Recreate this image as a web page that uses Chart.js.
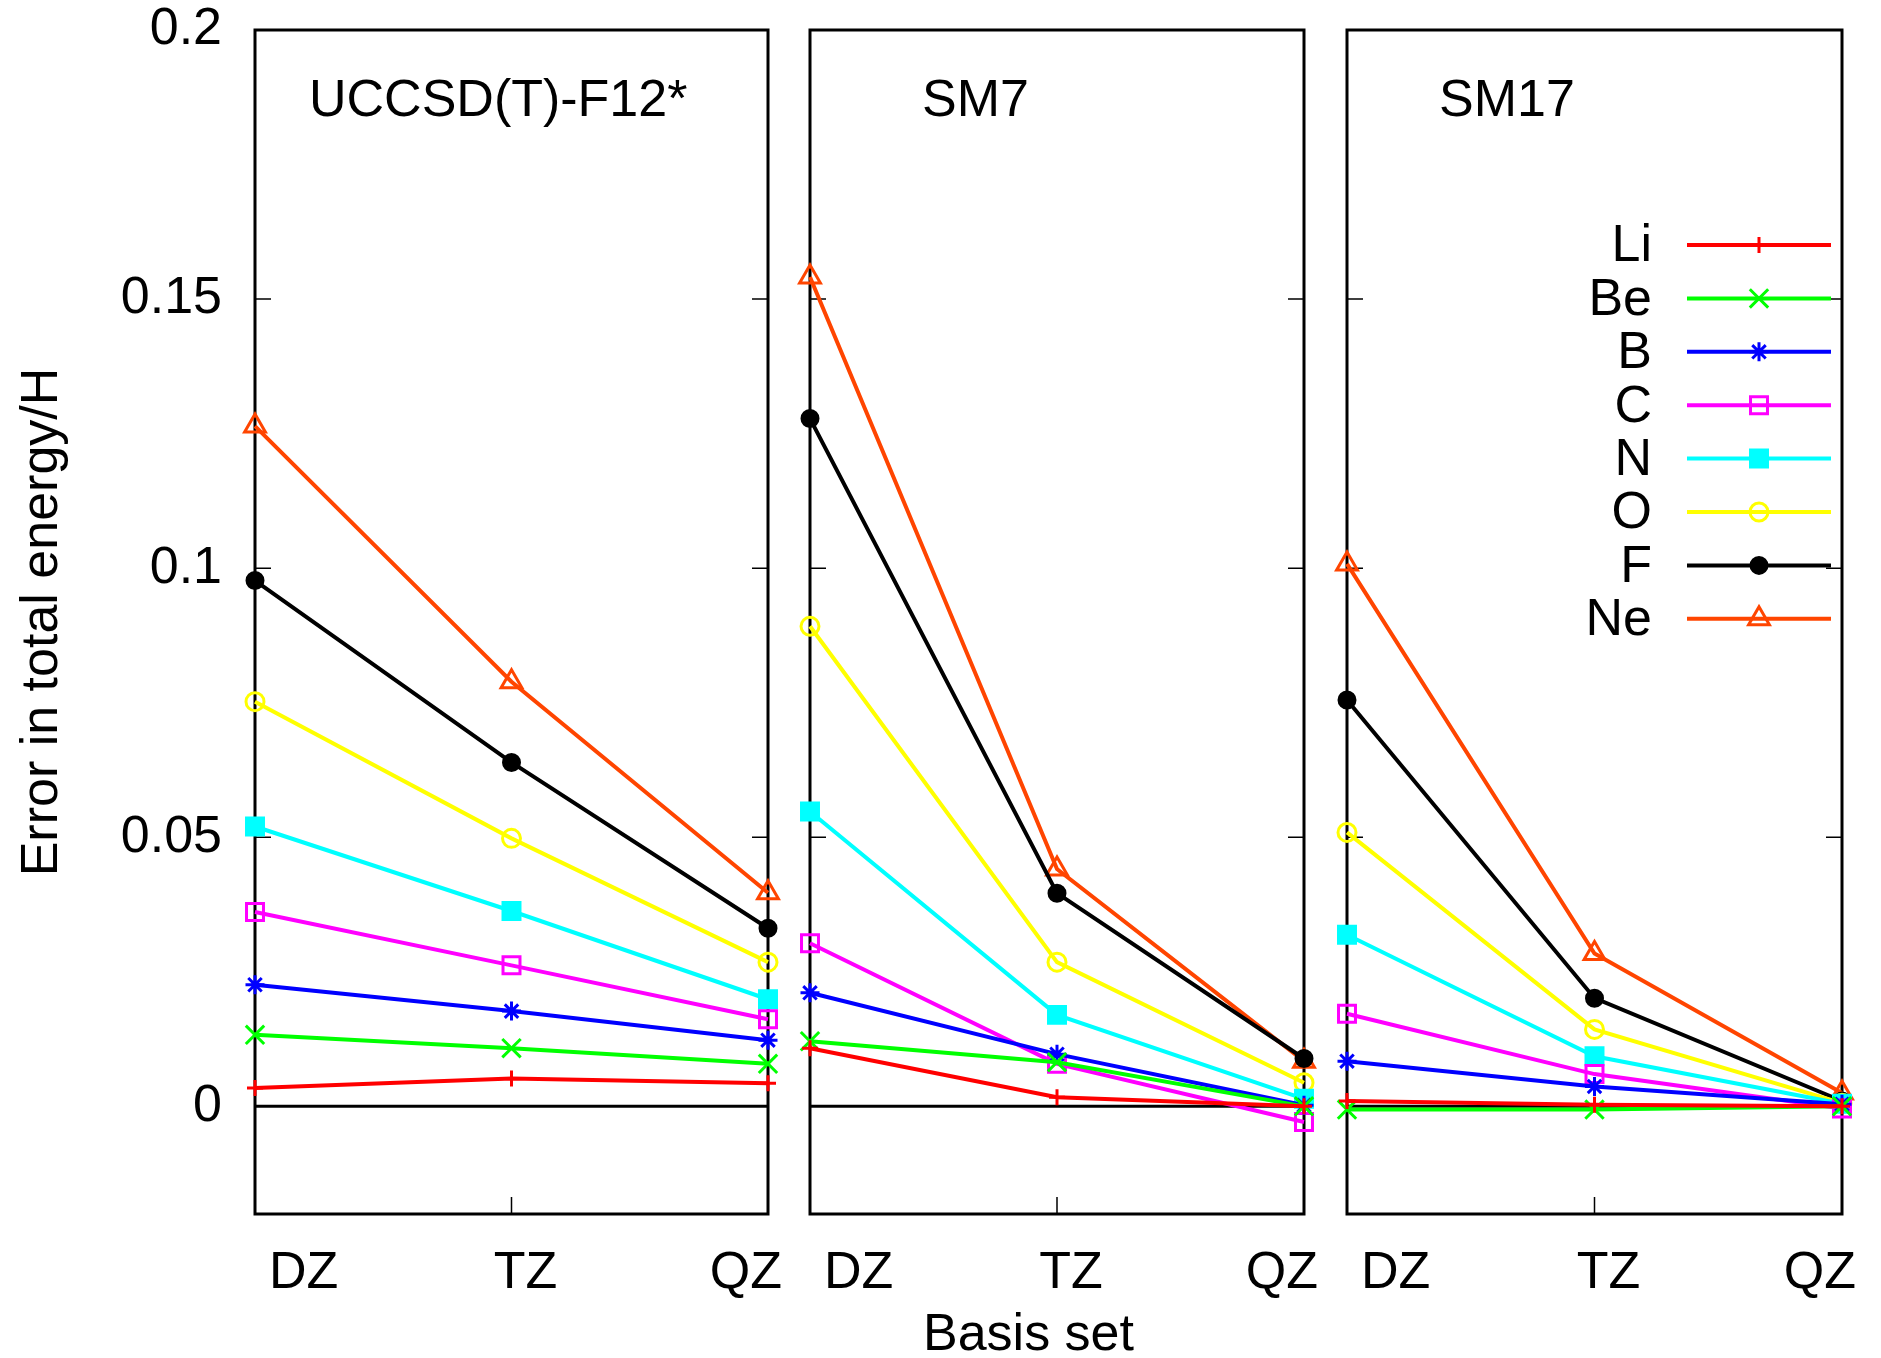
<!DOCTYPE html>
<html>
<head>
<meta charset="utf-8">
<script src="https://cdn.jsdelivr.net/npm/chart.js"></script>
<style>
  html, body { margin: 0; padding: 0; background: #fff; }
  #wrap { position: relative; width: 1881px; height: 1358px; overflow: hidden; font-family: 'Liberation Sans', Arial, sans-serif; }
  #wrap canvas { position: absolute; left: 0; top: 0; }
  .lbl { position: absolute; font-size: 52px; line-height: 1; white-space: nowrap; color: #000; }
</style>
</head>
<body>
<div id="wrap">
  <canvas id="panel1" width="1881" height="1358"></canvas>
  <canvas id="panel2" width="1881" height="1358"></canvas>
  <canvas id="panel3" width="1881" height="1358"></canvas>
  <div class="lbl" style="left:309px; top:72px">UCCSD(T)-F12*</div>
  <div class="lbl" style="left:922px; top:72px">SM7</div>
  <div class="lbl" style="left:1439px; top:72px">SM17</div>
  <div class="lbl" style="left:923px; top:1306px">Basis set</div>
</div>
<script>
const basisSets = ['DZ', 'TZ', 'QZ'];
const atoms = ['Li', 'Be', 'B', 'C', 'N', 'O', 'F', 'Ne'];
const yTickValues = [0, 0.05, 0.1, 0.15, 0.2];

// error in total energy (hartree), one row per atom: DZ, TZ, QZ
const f12Errors = [
    [0.0034, 0.0052, 0.0043],  // Li
    [0.0133, 0.0108, 0.0079],  // Be
    [0.0226, 0.0177, 0.0123],  // B
    [0.0361, 0.0262, 0.0162],  // C
    [0.0520, 0.0363, 0.0199],  // N
    [0.0752, 0.0498, 0.0268],  // O
    [0.0977, 0.0639, 0.0331],  // F
    [0.1264, 0.0789, 0.0397]   // Ne
];
const sm7Errors = [
    [0.0108, 0.0017, 0.0000],
    [0.0121, 0.0082, 0.0000],
    [0.0211, 0.0097, 0.0002],
    [0.0303, 0.0079, -0.0029],
    [0.0548, 0.0170, 0.0014],
    [0.0892, 0.0268, 0.0044],
    [0.1278, 0.0396, 0.0089],
    [0.1541, 0.0441, 0.0084]
];
const sm17Errors = [
    [0.0010, 0.0003, 0.0000],
    [-0.0006, -0.0006, 0.0000],
    [0.0084, 0.0037, 0.0004],
    [0.0172, 0.0060, -0.0004],
    [0.0319, 0.0093, 0.0005],
    [0.0509, 0.0143, 0.0006],
    [0.0755, 0.0201, 0.0010],
    [0.1008, 0.0284, 0.0025]
];

const atomColors = ['#ff0000', '#00ff00', '#0000ff', '#ff00ff', '#00ffff', '#ffff00', '#000000', '#ff4500'];
const atomMarkers = ['cross', 'crossRot', 'star', 'rect', 'rect', 'circle', 'circle', 'triangle'];
const atomFilled = [false, false, false, false, true, false, true, false];
const atomMarkerSizes = [8, 13, 9.5, 12, 12, 9, 8, 12];

Chart.defaults.font.family = "'Liberation Sans', Arial, sans-serif";
Chart.defaults.font.size = 52;
Chart.defaults.color = '#000';

function makeDatasets(values) {
    return atoms.map((name, i) => ({
        label: name,
        data: values[i],
        borderColor: atomColors[i],
        backgroundColor: atomColors[i],
        borderWidth: 4,
        pointStyle: atomMarkers[i],
        pointRadius: atomMarkerSizes[i],
        pointBorderWidth: 3,
        pointBorderColor: atomColors[i],
        pointBackgroundColor: atomFilled[i] ? atomColors[i] : 'rgba(0,0,0,0)',
        tension: 0,
        clip: false
    }));
}

// gnuplot style box: frame, zero axis and inward ticks
const framePlugin = {
    id: 'gnuFrame',
    beforeDatasetsDraw(chart) {
        const { ctx, chartArea: a, scales: { x, y } } = chart;
        ctx.save();
        ctx.strokeStyle = '#000';
        ctx.lineWidth = 3;
        const y0 = y.getPixelForValue(0);
        ctx.beginPath();
        ctx.moveTo(a.left, y0);
        ctx.lineTo(a.right, y0);
        ctx.stroke();

        ctx.lineWidth = 1.5;
        ctx.beginPath();
        yTickValues.forEach(v => {
            const py = y.getPixelForValue(v);
            ctx.moveTo(a.left, py); ctx.lineTo(a.left + 16, py);
            ctx.moveTo(a.right, py); ctx.lineTo(a.right - 16, py);
        });
        basisSets.forEach((b, i) => {
            const px = x.getPixelForValue(i);
            ctx.moveTo(px, a.bottom); ctx.lineTo(px, a.bottom - 17);
        });
        ctx.stroke();

        ctx.lineWidth = 3;
        ctx.strokeRect(a.left, a.top, a.right - a.left, a.bottom - a.top);
        ctx.restore();
    }
};

// key with text left of the sample line, as gnuplot draws it
const keyPlugin = {
    id: 'gnuKey',
    afterDatasetsDraw(chart, args, opts) {
        const ctx = chart.ctx;
        ctx.save();
        ctx.font = "52px 'Liberation Sans', Arial, sans-serif";
        ctx.textAlign = 'right';
        ctx.textBaseline = 'middle';
        chart.data.datasets.forEach((ds, i) => {
            const yy = opts.top + i * opts.step;
            ctx.fillStyle = '#000';
            ctx.fillText(ds.label, opts.textRight, yy + 2);
            ctx.strokeStyle = ds.borderColor;
            ctx.lineWidth = ds.borderWidth;
            ctx.beginPath();
            ctx.moveTo(opts.lineLeft, yy);
            ctx.lineTo(opts.lineRight, yy);
            ctx.stroke();
            ctx.fillStyle = ds.pointBackgroundColor;
            ctx.lineWidth = ds.pointBorderWidth;
            Chart.helpers.drawPoint(ctx, {
                pointStyle: ds.pointStyle, radius: ds.pointRadius, rotation: 0, borderWidth: ds.pointBorderWidth
            }, opts.mark, yy);
        });
        ctx.restore();
    }
};

function makePanel(id, values, padLeft, padRight, showY, withKey) {
    const plugins = [framePlugin];
    if (withKey) plugins.push(keyPlugin);
    return new Chart(document.getElementById(id), {
        type: 'line',
        data: { labels: basisSets, datasets: makeDatasets(values) },
        options: {
            responsive: false,
            animation: false,
            layout: { padding: { left: padLeft, right: padRight, top: 30, bottom: 0 } },
            plugins: {
                legend: { display: false },
                tooltip: { enabled: false },
                gnuKey: { top: 245, step: 53.4, textRight: 1652, lineLeft: 1687, lineRight: 1831, mark: 1759 }
            },
            scales: {
                x: {
                    type: 'category',
                    offset: false,
                    grid: { display: false, drawTicks: false },
                    border: { display: false },
                    ticks: { align: 'inner', labelOffset: 14, padding: 28, maxRotation: 0, autoSkip: false },
                    afterFit: s => { s.height = 144; s.paddingLeft = 0; s.paddingRight = 0; }
                },
                y: {
                    min: -0.02,
                    max: 0.2,
                    display: showY,
                    grid: { display: false, drawTicks: false },
                    border: { display: false },
                    afterBuildTicks: s => { s.ticks = yTickValues.map(v => ({ value: v })); },
                    ticks: { padding: 33, callback: v => String(+v.toFixed(2)) },
                    title: { display: true, text: 'Error in total energy/H', padding: { top: 11, bottom: 0 } },
                    afterFit: s => { s.width = showY ? 255 : 0; s.paddingTop = 0; s.paddingBottom = 0; }
                }
            }
        },
        plugins
    });
}

makePanel('panel1', f12Errors, 0, 1881 - 768, true, false);
makePanel('panel2', sm7Errors, 810, 1881 - 1304, false, false);
makePanel('panel3', sm17Errors, 1347, 1881 - 1842, false, true);
</script>
</body>
</html>
